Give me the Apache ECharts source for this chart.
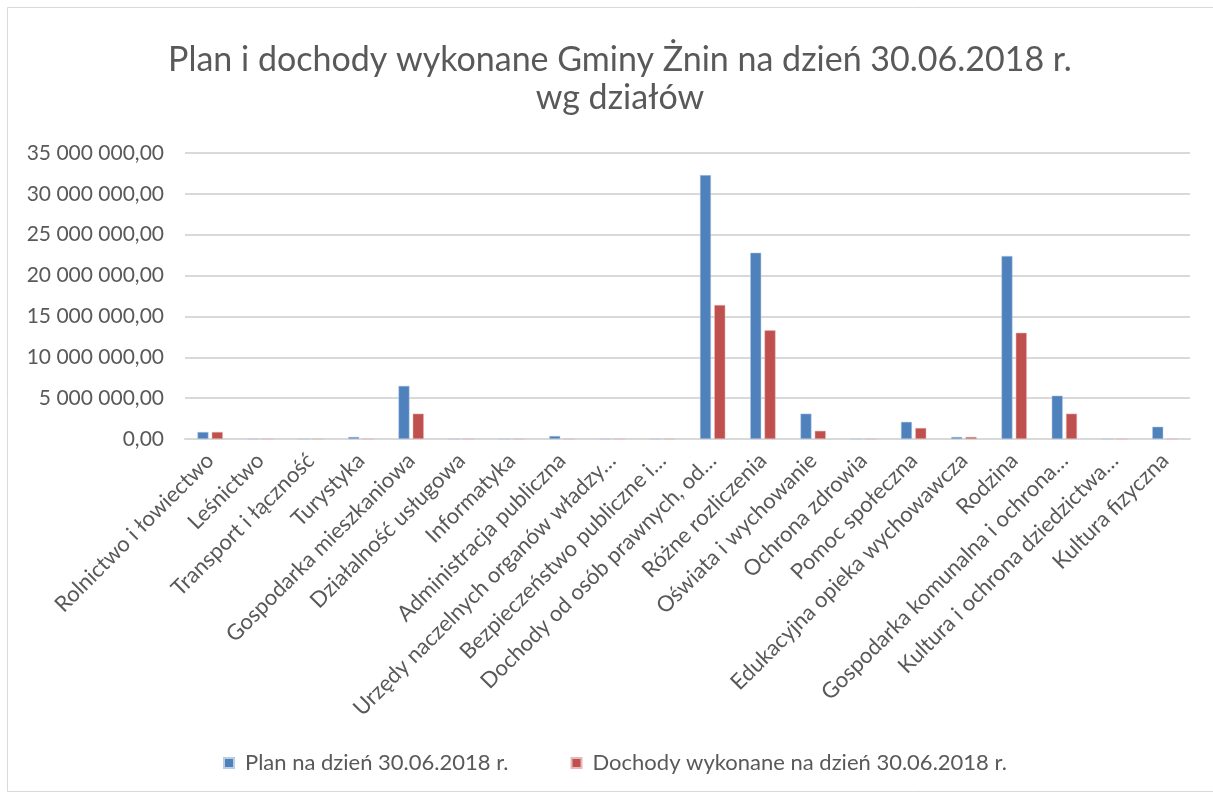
<!DOCTYPE html>
<html><head><meta charset="utf-8">
<script src="https://cdn.jsdelivr.net/npm/echarts@6/dist/echarts.min.js"></script>
<style>html,body{margin:0;padding:0;background:#fff}#c{width:1213px;height:796px}</style>
</head><body><div id="c"></div>
<script>
const categories = ["Rolnictwo i łowiectwo","Leśnictwo","Transport i łączność","Turystyka","Gospodarka mieszkaniowa","Działalność usługowa","Informatyka","Administracja publiczna","Urzędy naczelnych organów władzy…","Bezpieczeństwo publiczne i…","Dochody od osób prawnych, od…","Różne rozliczenia","Oświata i wychowanie","Ochrona zdrowia","Pomoc społeczna","Edukacyjna opieka wychowawcza","Rodzina","Gospodarka komunalna i ochrona…","Kultura i ochrona dziedzictwa…","Kultura fizyczna"];
const planValues = [860000,0,0,250000,6500000,0,0,370000,0,0,32300000,22800000,3100000,0,2100000,250000,22400000,5300000,0,1500000];
const dochodyValues = [860000,0,0,0,3100000,0,0,0,0,0,16400000,13300000,1000000,0,1350000,250000,13000000,3100000,0,0];
const seriesNames = ["Plan na dzień 30.06.2018 r.","Dochody wykonane na dzień 30.06.2018 r."];
const titleLines = ["Plan i dochody wykonane Gminy Żnin na dzień 30.06.2018 r.","wg działów"];

const FONT = "Lato,'Open Sans',sans-serif";
function fmt(v){
  const s = Math.round(v).toString().replace(/\B(?=(\d{3})+(?!\d))/g,' ');
  return s + ',00';
}
const chart = echarts.init(document.getElementById('c'));
chart.setOption({
  animation:false,
  backgroundColor:'#fff',
  title:{text:titleLines.join('\n'),left:615,top:36,textAlign:'center',
    textStyle:{fontFamily:FONT,fontSize:34,fontWeight:'normal',color:'#595959',lineHeight:38}},
  graphic:[{type:'rect',shape:{x:7.5,y:7.5,width:1210,height:784},style:{fill:'none',stroke:'#d9d9d9',lineWidth:1},z:-1}],
  legend:{top:747,left:218,itemWidth:10,itemHeight:10,itemGap:62,icon:'rect',
    textStyle:{fontFamily:FONT,fontSize:22,color:'#595959',padding:[0,0,0,6]}},
  grid:{left:185,right:23,top:153,bottom:357},
  xAxis:{type:'category',data:categories,
    axisLine:{lineStyle:{color:'#d9d9d9',width:2}},axisTick:{show:false},
    axisLabel:{rotate:45,interval:0,fontFamily:FONT,fontSize:22,color:'#595959',margin:18}},
  yAxis:{type:'value',min:0,max:35000000,interval:5000000,
    axisLine:{show:false},axisTick:{show:false},
    splitLine:{lineStyle:{color:'#d9d9d9',width:2}},
    axisLabel:{formatter:fmt,fontFamily:FONT,fontSize:21,color:'#595959',margin:21}},
  series:[
    {name:seriesNames[0],type:'bar',data:planValues,barWidth:11,barGap:'30%',
     itemStyle:{color:'#4f81bd',borderColor:'#b9cde5',borderWidth:0.5}},
    {name:seriesNames[1],type:'bar',data:dochodyValues,barWidth:11,
     itemStyle:{color:'#c0504d',borderColor:'#e6b9b8',borderWidth:0.5}}
  ]
});
</script></body></html>
